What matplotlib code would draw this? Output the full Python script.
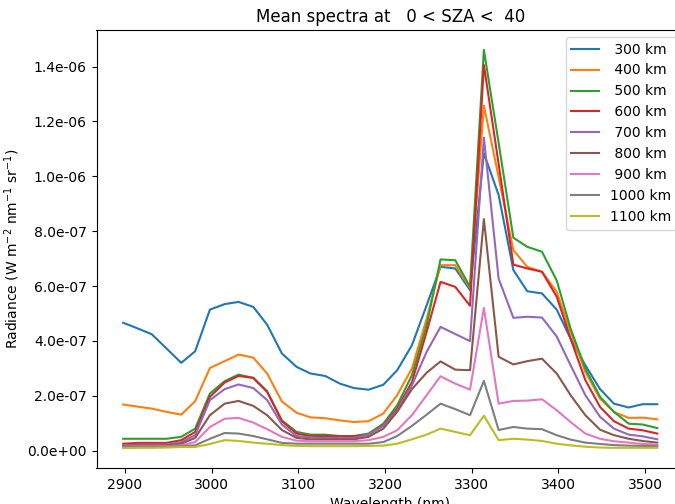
import matplotlib
matplotlib.use("Agg")
import matplotlib.pyplot as plt
import numpy as np
from matplotlib.ticker import FormatStrFormatter, MultipleLocator

# ---------------------------------------------------------------------------
# Data (radiance in units of 1e-6 W m-2 nm-1 sr-1)
# ---------------------------------------------------------------------------
wavelength = [2898, 2915, 2931, 2948, 2965, 2981, 2998, 3015, 3031, 3048,
              3064, 3081, 3098, 3114, 3131, 3148, 3164, 3181, 3198, 3214,
              3231, 3248, 3264, 3281, 3298, 3314, 3331, 3348, 3364, 3381,
              3398, 3414, 3431, 3448, 3464, 3481, 3497, 3514]

altitudes = [300, 400, 500, 600, 700, 800, 900, 1000, 1100]

rad_300 = [0.466, 0.445, 0.424, 0.372, 0.320, 0.362, 0.514, 0.534, 0.542, 0.524,
           0.459, 0.354, 0.305, 0.281, 0.272, 0.244, 0.228, 0.222, 0.240, 0.293,
           0.384, 0.530, 0.670, 0.664, 0.585, 1.084, 0.932, 0.658, 0.581, 0.573,
           0.514, 0.408, 0.311, 0.224, 0.171, 0.157, 0.169, 0.169]
rad_400 = [0.168, 0.160, 0.153, 0.141, 0.131, 0.180, 0.301, 0.326, 0.350, 0.339,
           0.281, 0.179, 0.138, 0.121, 0.118, 0.110, 0.104, 0.107, 0.135, 0.202,
           0.299, 0.481, 0.676, 0.676, 0.593, 1.258, 0.997, 0.731, 0.670, 0.652,
           0.579, 0.433, 0.287, 0.189, 0.141, 0.119, 0.120, 0.114]
rad_500 = [0.043, 0.043, 0.043, 0.043, 0.050, 0.080, 0.208, 0.253, 0.277, 0.265,
           0.216, 0.110, 0.068, 0.058, 0.058, 0.053, 0.053, 0.062, 0.098, 0.165,
           0.275, 0.457, 0.697, 0.694, 0.597, 1.461, 1.122, 0.776, 0.743, 0.725,
           0.620, 0.445, 0.299, 0.196, 0.141, 0.098, 0.095, 0.082]
rad_600 = [0.025, 0.028, 0.028, 0.028, 0.038, 0.068, 0.196, 0.248, 0.272, 0.265,
           0.214, 0.107, 0.062, 0.053, 0.053, 0.052, 0.052, 0.058, 0.092, 0.153,
           0.250, 0.433, 0.615, 0.597, 0.528, 1.406, 1.045, 0.678, 0.664, 0.652,
           0.561, 0.408, 0.257, 0.159, 0.107, 0.080, 0.074, 0.062]
rad_700 = [0.019, 0.021, 0.021, 0.021, 0.031, 0.056, 0.184, 0.224, 0.241, 0.228,
           0.184, 0.095, 0.053, 0.048, 0.046, 0.046, 0.046, 0.058, 0.090, 0.147,
           0.238, 0.360, 0.451, 0.425, 0.399, 1.141, 0.627, 0.484, 0.488, 0.485,
           0.416, 0.311, 0.202, 0.123, 0.080, 0.058, 0.052, 0.041]
rad_800 = [0.017, 0.018, 0.018, 0.019, 0.025, 0.046, 0.129, 0.171, 0.181, 0.163,
           0.129, 0.075, 0.046, 0.041, 0.041, 0.041, 0.041, 0.050, 0.080, 0.141,
           0.224, 0.284, 0.325, 0.295, 0.293, 0.844, 0.342, 0.314, 0.326, 0.335,
           0.281, 0.202, 0.129, 0.076, 0.056, 0.043, 0.035, 0.029]
rad_900 = [0.014, 0.015, 0.015, 0.016, 0.019, 0.031, 0.086, 0.116, 0.119, 0.102,
           0.078, 0.050, 0.036, 0.034, 0.034, 0.034, 0.034, 0.038, 0.050, 0.074,
           0.129, 0.202, 0.271, 0.244, 0.222, 0.520, 0.171, 0.181, 0.182, 0.187,
           0.147, 0.104, 0.062, 0.043, 0.034, 0.029, 0.024, 0.022]
rad_1000 = [0.012, 0.013, 0.013, 0.014, 0.016, 0.019, 0.043, 0.064, 0.062, 0.053,
            0.041, 0.028, 0.025, 0.025, 0.025, 0.025, 0.025, 0.025, 0.031, 0.053,
            0.090, 0.131, 0.171, 0.151, 0.129, 0.254, 0.075, 0.086, 0.080, 0.078,
            0.056, 0.040, 0.029, 0.024, 0.020, 0.018, 0.017, 0.016]
rad_1100 = [0.009, 0.010, 0.010, 0.011, 0.013, 0.013, 0.024, 0.038, 0.035, 0.029,
            0.025, 0.020, 0.017, 0.016, 0.016, 0.016, 0.016, 0.017, 0.018, 0.025,
            0.041, 0.058, 0.080, 0.068, 0.056, 0.127, 0.038, 0.043, 0.040, 0.035,
            0.025, 0.019, 0.014, 0.011, 0.010, 0.010, 0.010, 0.010]

spectra = [rad_300, rad_400, rad_500, rad_600, rad_700,
           rad_800, rad_900, rad_1000, rad_1100]

sza_min, sza_max = 0, 40

# ---------------------------------------------------------------------------
# Plot
# ---------------------------------------------------------------------------
fig = plt.figure(figsize=(6.75, 5.04), dpi=100)
# axes run slightly past the right edge of the image, as in the original
ax = fig.add_axes([96.5 / 675, 36 / 504, (684 - 96.5) / 675, 438 / 504])

for alt, rad in zip(altitudes, spectra):
    ax.plot(wavelength, np.array(rad) * 1e-6, label="%4d km" % alt)

ax.set_title("Mean spectra at %3d < SZA < %3d" % (sza_min, sza_max))
ax.set_xlabel("Wavelength (nm)")
ax.set_ylabel(r"Radiance (W m$^{-2}$ nm$^{-1}$ sr$^{-1}$)")
ax.yaxis.set_major_locator(MultipleLocator(2e-7))
ax.yaxis.set_major_formatter(FormatStrFormatter("%.1e"))
ax.xaxis.set_major_locator(MultipleLocator(100))
ax.legend(loc="upper right")

fig.savefig("out.png", dpi=100)
